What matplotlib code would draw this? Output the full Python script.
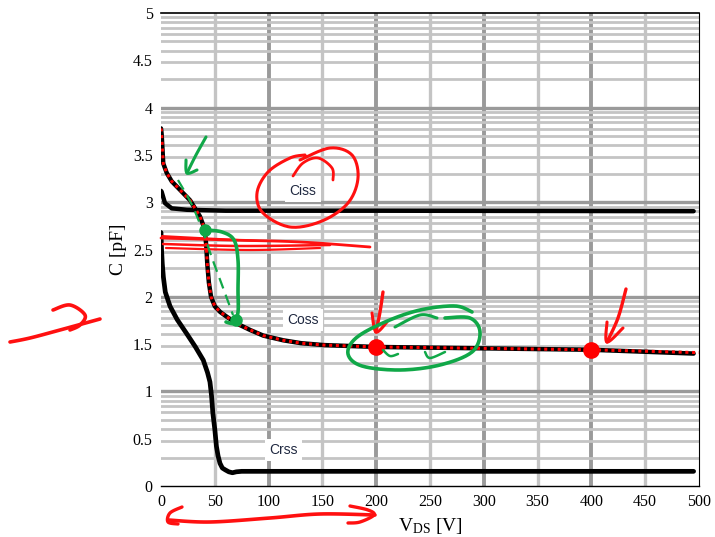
import numpy as np
import matplotlib
matplotlib.use("Agg")
import matplotlib.pyplot as plt
from matplotlib.transforms import IdentityTransform
from matplotlib.lines import Line2D

# ---------------- data ----------------
vds_ciss = [0, 0.6, 3.7, 10, 24, 60, 200, 495]
c_ciss = [3.12, 3.11, 2.99, 2.935, 2.92, 2.91, 2.91, 2.905]

vds_coss = [0, 0.6, 2.1, 5.3, 10, 17.7, 27, 36.2, 40.5, 42, 43, 44.5, 46.5, 50,
            55, 61, 70, 82.7, 95, 113.7, 130, 150.8, 175, 200, 300, 400, 495]
c_coss = [3.78, 3.72, 3.41, 3.31, 3.22, 3.13, 3.02, 2.85, 2.72, 2.55, 2.35, 2.15,
          2.0, 1.9, 1.84, 1.79, 1.72, 1.65, 1.59, 1.54, 1.51, 1.49, 1.48, 1.47,
          1.455, 1.44, 1.40]

vds_coss_fit = vds_coss[:-1] + [500]
c_coss_fit = c_coss[:-1] + [1.41]

vds_crss = [0, 0.5, 1.2, 2.2, 4, 8.4, 15, 23.9, 32, 39.3, 43.2, 45.5, 47, 48.2,
            50, 51.5, 53, 54.8, 57, 59.8, 63, 66.4, 70, 75, 200, 495]
c_crss = [2.68, 2.5, 2.35, 2.21, 2.05, 1.90, 1.76, 1.61, 1.47, 1.33, 1.2, 1.1,
          0.95, 0.77, 0.6, 0.42, 0.32, 0.24, 0.19, 0.17, 0.15, 0.14, 0.15, 0.155,
          0.155, 0.155]

marked_v = [200, 400]
marked_c = [1.47, 1.44]

x_ticks = [0, 50, 100, 150, 200, 250, 300, 350, 400, 450, 500]
y_ticks = [0, 0.5, 1, 1.5, 2, 2.5, 3, 3.5, 4, 4.5, 5]
y_tick_labels = ["0", "0.5", "1", "1.5", "2", "2.5", "3", "3.5", "4", "4.5", "5"]

# ---------------- figure ----------------
W, H = 715, 537
plt.rcParams['font.family'] = ['Liberation Serif', 'DejaVu Serif']
plt.rcParams['mathtext.fontset'] = 'custom'
plt.rcParams['mathtext.rm'] = 'Liberation Serif'
plt.rcParams['mathtext.it'] = 'Liberation Serif:italic'

fig = plt.figure(figsize=(W / 100, H / 100), dpi=100)
ax = fig.add_axes([161 / W, (H - 486) / H, 538 / W, 473 / H])
ax.set_xlim(0, 500)
ax.set_ylim(0, 5)

# grid
light = '#c4c4c4'
dark = '#9a9a9a'
for v in range(50, 500, 100):
    ax.axvline(v, color=light, lw=2.4, zorder=1)
for v in range(100, 500, 100):
    ax.axvline(v, color=dark, lw=2.8, zorder=1)
for n in range(5):
    for k in range(2, 10):
        ax.axhline(n + np.log10(k), color=light, lw=2.0, zorder=1)
for n in range(1, 5):
    ax.axhline(n, color=dark, lw=2.4, zorder=1)

# curves
ax.plot(vds_ciss, c_ciss, color='black', lw=3.2, zorder=3, solid_capstyle='round')
ax.plot(vds_coss, c_coss, color='black', lw=3.2, zorder=3, solid_capstyle='round')
ax.plot(vds_crss, c_crss, color='black', lw=3.4, zorder=3, solid_capstyle='round')
ax.plot(vds_coss_fit, c_coss_fit, color='#ff0000', lw=2.2, ls=(0, (1.0, 1.2)), zorder=4)
ax.plot(marked_v, marked_c, 'o', color='#ff0000', ms=11, zorder=6)

# curve labels
lab_kw = dict(family=['Liberation Sans', 'DejaVu Sans'], fontsize=10, color='#1f2840',
              ha='center', va='center', zorder=5,
              bbox=dict(boxstyle='square,pad=0.3', fc='white', ec='none'))
ax.text(132, 3.12, 'Ciss', **lab_kw)
ax.text(132, 1.755, 'Coss', **lab_kw)
ax.text(114, 0.38, 'Crss', **lab_kw)

# axes styling
ax.set_xticks(x_ticks)
ax.set_yticks(y_ticks)
ax.set_yticklabels(y_tick_labels)
ax.tick_params(length=0, labelsize=11.5, pad=6)
ax.spines['left'].set_visible(False)
ax.spines['top'].set_linewidth(1.2)
ax.spines['bottom'].set_linewidth(1.0)
ax.spines['right'].set_linewidth(0.8)
ax.spines['right'].set_linestyle((0, (3, 1)))
for s in ax.spines.values():
    s.set_zorder(2)
ax.set_ylabel('C [pF]', fontsize=14, labelpad=4)
ax.set_xlabel(r'V$_{\mathrm{DS}}$ [V]', fontsize=14, labelpad=4)


# ---------------- hand drawn annotations (pixel coords) ----------------
def smooth(pts, n=16):
    p = np.array(pts, float)
    P = np.vstack([p[0], p, p[-1]])
    out = []
    t = np.linspace(0, 1, n, endpoint=False)[:, None]
    for i in range(1, len(P) - 2):
        p0, p1, p2, p3 = P[i - 1], P[i], P[i + 1], P[i + 2]
        out.append(0.5 * (2 * p1 + (-p0 + p2) * t + (2 * p0 - 5 * p1 + 4 * p2 - p3) * t ** 2
                          + (-p0 + 3 * p1 - 3 * p2 + p3) * t ** 3))
    out.append(P[-2][None])
    return np.vstack(out)


def stroke(pts, color, lw=2.2, ls='-', z=7):
    xy = smooth(pts)
    fig.add_artist(Line2D(xy[:, 0], H - xy[:, 1], transform=IdentityTransform(),
                          color=color, lw=lw, ls=ls, zorder=z,
                          solid_capstyle='round', solid_joinstyle='round'))


def dot(x, y, color, r=6):
    fig.add_artist(Line2D([x], [H - y], transform=IdentityTransform(), marker='o',
                          ms=r, color=color, zorder=8))


RED = '#ff1010'
GREEN = '#10a848'

# red loop around Ciss
stroke([(293, 176), (303, 163), (318, 158), (332, 168), (333, 180)], RED, 2.0)
stroke([(300, 160), (330, 148), (352, 155), (358, 178), (348, 203), (322, 221),
        (290, 227), (263, 213), (257, 193), (268, 172), (290, 158), (305, 155)], RED, 2.2)

# red scribbles
stroke([(161, 238), (230, 240), (300, 242), (370, 247)], RED, 2.0)
stroke([(163, 244), (240, 246), (330, 245)], RED, 1.8)
stroke([(166, 248), (250, 250), (320, 248)], RED, 1.6)
stroke([(162, 236), (200, 238), (260, 241)], RED, 1.4)

# green arrow
stroke([(206, 137), (196, 155), (187, 173)], GREEN, 2.2)
stroke([(186, 160), (187, 173), (197, 170)], GREEN, 2.2)

# green loop and dashed line
stroke([(205, 230), (222, 232), (234, 240), (238, 260), (238, 290), (238, 312),
        (234, 323), (226, 322)], GREEN, 2.6)
stroke([(178, 180), (192, 205), (203, 232), (212, 258), (222, 285), (233, 315)], GREEN, 1.6,
       ls=(0, (5, 3)))
dot(205, 230, GREEN, 8)
dot(236, 320, GREEN, 8)

# red arrows onto points
stroke([(383, 292), (380, 312), (376, 332)], RED, 2.4)
stroke([(372, 313), (376, 332), (387, 322)], RED, 2.2)
stroke([(626, 289), (618, 318), (607, 342)], RED, 2.4)
stroke([(607, 322), (607, 342), (623, 328)], RED, 2.2)

# green ellipse around first point
stroke([(395, 327), (420, 315), (437, 318)], GREEN, 2.2)
stroke([(445, 318), (470, 318), (480, 332), (472, 352), (440, 365), (400, 370),
        (362, 366), (348, 354), (356, 338), (385, 322), (420, 310), (455, 306),
        (472, 312)], GREEN, 2.6)
stroke([(383, 350), (390, 356), (398, 354)], GREEN, 1.8)
stroke([(425, 352), (430, 358), (445, 352)], GREEN, 1.8)

# left curved red arrow
stroke([(100, 319), (60, 330), (30, 338), (10, 342)], RED, 2.6)
stroke([(53, 310), (70, 305), (85, 315), (80, 325), (70, 330)], RED, 2.6)

# double arrow under x-axis
stroke([(168, 520), (210, 522), (270, 518), (320, 514), (375, 515)], RED, 2.6)
stroke([(182, 507), (170, 513), (168, 522), (178, 524)], RED, 2.4)
stroke([(350, 506), (368, 510), (374, 515), (360, 522), (348, 523)], RED, 2.4)

fig.savefig('out.png', dpi=100)
